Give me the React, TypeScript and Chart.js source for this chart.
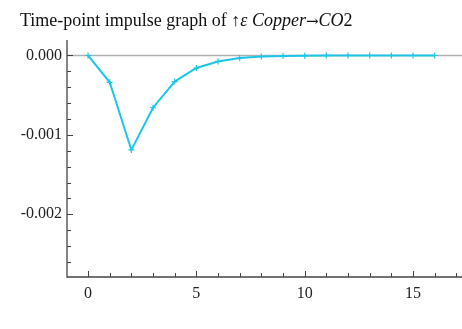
import React, { useEffect, useRef } from "react";
import { Chart, registerables } from "chart.js";

Chart.register(...registerables);

const periods = [0, 1, 2, 3, 4, 5, 6, 7, 8, 9, 10, 11, 12, 13, 14, 15, 16];
const impulse = [
  0, -0.000338, -0.00119, -0.000658, -0.000329, -0.000158, -0.000075,
  -0.000032, -0.000014, -0.000006, -0.000002, -0.000001, 0, 0, 0, 0, 0,
];
const xTickLabels = [0, 5, 10, 15];
const yTickLabels = [0, -0.001, -0.002];
const xMinorTicks = [0, 1, 2, 3, 4, 5, 6, 7, 8, 9, 10, 11, 12, 13, 14, 15, 16, 17];
const yMinorTicks = [
  0, -0.0002, -0.0004, -0.0006, -0.0008, -0.001, -0.0012, -0.0014, -0.0016,
  -0.0018, -0.002, -0.0022, -0.0024, -0.0026,
];

const FONT = "'Liberation Serif', 'Times New Roman', serif";

const axesPlugin = {
  id: "axesPlugin",
  beforeDatasetsDraw(chart: any) {
    const { ctx, chartArea, scales } = chart;
    const y0 = scales.y.getPixelForValue(0);
    ctx.save();
    ctx.strokeStyle = "#b0b0b0";
    ctx.lineWidth = 1.5;
    ctx.beginPath();
    ctx.moveTo(chartArea.left, y0);
    ctx.lineTo(chartArea.right, y0);
    ctx.stroke();
    ctx.restore();
  },
  afterDraw(chart: any) {
    const { ctx, chartArea, scales } = chart;
    const { left, right, top, bottom } = chartArea;
    ctx.save();
    ctx.strokeStyle = "#444";
    ctx.lineWidth = 1.3;
    ctx.beginPath();
    ctx.moveTo(left, top);
    ctx.lineTo(left, bottom);
    ctx.lineTo(right, bottom);
    ctx.stroke();
    ctx.lineWidth = 1;
    ctx.beginPath();
    for (const v of xMinorTicks) {
      const px = Math.round(scales.x.getPixelForValue(v)) + 0.5;
      const len = v % 5 === 0 ? 6 : 4;
      ctx.moveTo(px, bottom);
      ctx.lineTo(px, bottom - len);
    }
    for (let i = 0; i < yMinorTicks.length; i++) {
      const v = yMinorTicks[i];
      const py = Math.round(scales.y.getPixelForValue(v)) + 0.5;
      const len = i % 5 === 0 ? 6 : 4;
      ctx.moveTo(left, py);
      ctx.lineTo(left + len, py);
    }
    ctx.stroke();
    ctx.restore();
  },
};

export default function App() {
  const ref = useRef<HTMLCanvasElement>(null);
  useEffect(() => {
    if (!ref.current) return;
    const chart = new Chart(ref.current, {
      type: "line",
      data: {
        datasets: [
          {
            data: periods.map((p, i) => ({ x: p, y: impulse[i] })),
            borderColor: "#1cc6ea",
            backgroundColor: "#1cc6ea",
            borderWidth: 2,
            pointStyle: "cross",
            pointRadius: 3,
            pointBorderWidth: 1.2,
            pointBorderColor: "#1cc6ea",
            tension: 0,
          },
        ],
      },
      options: {
        animation: false,
        responsive: false,
        maintainAspectRatio: false,
        layout: { autoPadding: false, padding: { top: 40, right: 0, left: 0, bottom: 0 } },
        plugins: { legend: { display: false }, title: { display: false }, tooltip: { enabled: false } },
        scales: {
          x: {
            type: "linear",
            min: -0.97,
            max: 17.26,
            grid: { display: false, drawTicks: false },
            border: { display: false },
            afterBuildTicks: (scale: any) => {
              scale.ticks = xTickLabels.map((v) => ({ value: v }));
            },
            afterFit: (scale: any) => {
              scale.height = 52;
              scale.paddingLeft = 0;
              scale.paddingRight = 0;
            },
            ticks: {
              autoSkip: false,
              maxRotation: 0,
              padding: 7,
              color: "#222",
              font: { family: FONT, size: 16 },
              callback: (v: any) => String(v),
            },
          },
          y: {
            min: -0.00279,
            max: 0.000195,
            grid: { display: false, drawTicks: false },
            border: { display: false },
            afterBuildTicks: (scale: any) => {
              scale.ticks = yTickLabels.map((v) => ({ value: v }));
            },
            afterFit: (scale: any) => {
              scale.width = 67;
              scale.paddingTop = 0;
              scale.paddingBottom = 0;
            },
            ticks: {
              autoSkip: false,
              padding: 5,
              color: "#222",
              font: { family: FONT, size: 16 },
              callback: (v: any) => Number(v).toFixed(3),
            },
          },
        },
      },
      plugins: [axesPlugin],
    } as any);
    return () => chart.destroy();
  }, []);

  return (
    <div style={{ position: "fixed", left: 0, top: 0, width: 462, height: 329, background: "#fff" }}>
      <canvas ref={ref} width={462} height={329} style={{ position: "absolute", left: 0, top: 0, width: 462, height: 329 }} />
      <div
        style={{
          position: "absolute",
          left: 20,
          top: 10,
          fontFamily: FONT,
          fontSize: 18,
          lineHeight: "20px",
          color: "#111",
          whiteSpace: "nowrap",
        }}
      >
        Time-point impulse graph of ↑<i>ε Copper</i>
        <span style={{ fontFamily: "'DejaVu Serif', serif", fontSize: 15 }}>→</span>
        <i>CO</i>2
      </div>
    </div>
  );
}
